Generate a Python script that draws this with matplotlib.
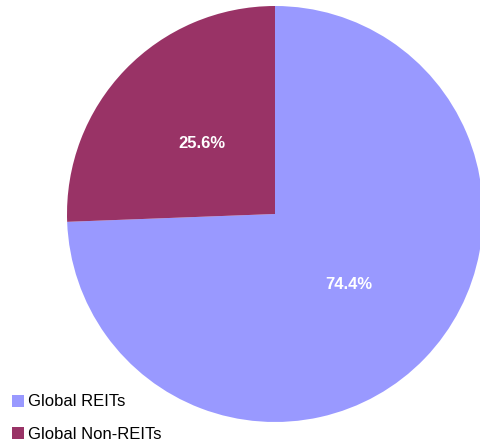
import matplotlib
matplotlib.use("Agg")
import matplotlib.pyplot as plt

plt.rcParams['font.family'] = ['Liberation Sans', 'DejaVu Sans']

# data
labels = ["Global REITs", "Global Non-REITs"]
shares = [74.4, 25.6]
colors = ["#9999FF", "#993366"]

W, H = 481, 447
fig = plt.figure(figsize=(W / 100, H / 100), dpi=100)
ax = fig.add_axes([0, 0, 1, 1])

wedges, _, autotexts = ax.pie(
    shares, colors=colors, startangle=90, counterclock=False,
    center=(275, H - 214), radius=208,
    autopct='%1.1f%%', pctdistance=0.49, frame=True,
    textprops=dict(color='white', fontsize=12, fontweight='bold'))
ax.set_xlim(0, W)
ax.set_ylim(0, H)
ax.set_aspect('equal')
ax.axis('off')

leg = ax.legend(wedges, labels, loc='lower left',
                bbox_to_anchor=(12, 5), bbox_transform=ax.transData,
                frameon=False, fontsize=12, handlelength=0.72,
                handleheight=0.72, handletextpad=0.25, labelspacing=1.05,
                borderpad=0, borderaxespad=0)

fig.savefig("out.png", dpi=100)
